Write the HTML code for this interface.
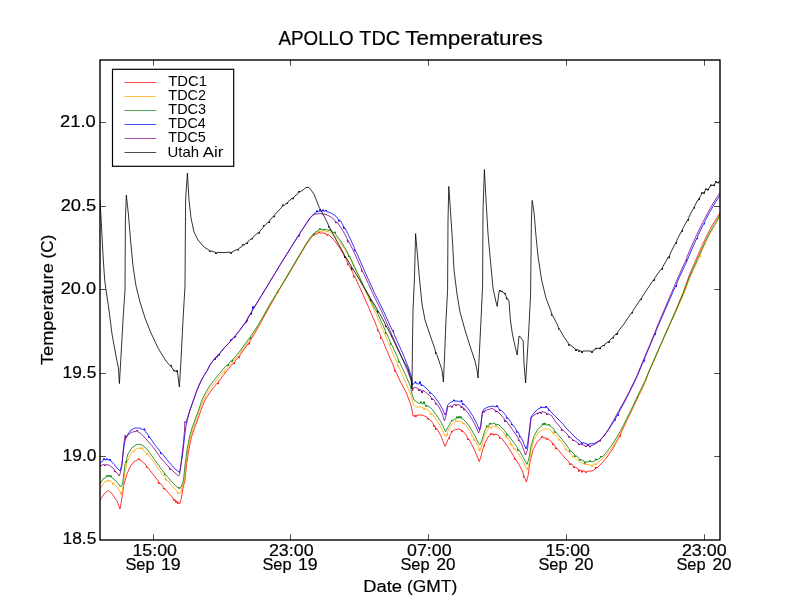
<!DOCTYPE html>
<html><head><meta charset="utf-8"><title>APOLLO TDC Temperatures</title>
<style>
html,body{margin:0;padding:0;background:#fff;}
svg{display:block;will-change:transform;}
text{font-family:"Liberation Sans",sans-serif;fill:#000;stroke:#000;stroke-width:0.2px;}
text.lg{stroke-width:0;}
.c{fill:none;stroke-width:0.8;stroke-linejoin:round;stroke-linecap:butt;}
</style></head><body>
<svg width="800" height="600" viewBox="0 0 800 600">
<rect x="0" y="0" width="800" height="600" fill="#ffffff"/>
<clipPath id="ax"><rect x="100" y="60" width="620" height="480"/></clipPath>
<g clip-path="url(#ax)">
<path class="c" stroke="#ff0000" d="M100.0,500.0 L104.0,494.0 L108.4,490.4 L112.0,493.6 L117.0,501.0 L120.0,509.0 L121.6,500.0 L124.0,484.0 L127.0,474.0 L130.0,467.0 L134.0,461.6 L138.0,459.6 L138.1,459.6 L138.7,458.6 L139.0,459.7 L139.3,458.6 L139.9,460.2 L141.0,460.6 L146.0,465.0 L146.1,465.1 L146.7,467.7 L147.0,466.5 L147.3,467.7 L147.9,467.5 L152.0,473.0 L158.1,480.8 L158.7,483.8 L159.0,482.3 L159.3,483.8 L159.9,483.0 L163.1,486.7 L163.7,489.3 L164.0,488.0 L164.3,489.3 L164.9,488.7 L166.0,490.0 L173.0,498.0 L173.1,498.1 L173.7,500.6 L174.0,499.1 L174.3,500.6 L174.9,499.5 L175.1,499.7 L175.7,502.4 L176.0,500.7 L176.3,502.4 L176.9,501.1 L177.1,501.3 L177.7,503.6 L178.0,502.2 L178.3,503.6 L178.9,502.7 L180.0,503.6 L181.4,498.0 L183.0,488.0 L185.0,480.0 L186.5,465.0 L188.8,450.0 L191.5,437.0 L194.5,428.0 L197.5,420.0 L201.0,410.0 L205.0,400.0 L209.5,393.0 L214.0,387.0 L217.1,383.3 L217.7,384.1 L218.0,382.5 L218.3,384.1 L218.9,381.1 L219.0,381.0 L223.0,375.5 L227.5,370.0 L230.0,367.0 L233.1,363.3 L233.7,364.0 L234.0,362.5 L234.3,364.0 L234.9,361.1 L235.0,361.0 L238.1,357.3 L238.7,358.1 L239.0,356.5 L239.3,358.1 L239.9,355.1 L240.0,355.0 L245.0,348.0 L248.1,343.7 L248.7,344.4 L249.0,342.7 L249.3,344.4 L249.9,341.1 L250.0,341.0 L255.0,333.0 L260.0,324.0 L265.0,315.0 L270.0,306.0 L275.0,297.0 L279.0,290.0 L290.0,272.0 L300.0,255.0 L306.0,245.0 L310.0,239.0 L314.0,235.0 L318.1,233.4 L318.7,231.7 L319.0,232.8 L319.3,231.7 L319.9,233.0 L324.0,233.0 L326.1,233.8 L326.7,235.5 L327.0,234.4 L327.3,235.5 L327.9,234.6 L329.0,235.0 L334.0,240.0 L339.8,248.0 L345.0,257.0 L347.1,261.2 L347.7,264.9 L348.0,263.3 L348.3,264.9 L348.9,264.8 L350.0,267.0 L353.1,273.2 L353.7,277.4 L354.0,275.4 L354.3,277.4 L354.9,276.8 L355.0,277.0 L360.0,288.0 L365.0,299.0 L369.8,310.0 L370.6,312.0 L377.1,327.3 L377.7,331.3 L378.0,329.7 L378.3,331.3 L378.9,331.5 L380.1,334.3 L380.7,338.6 L381.0,336.8 L381.3,338.6 L381.9,338.6 L390.0,358.0 L394.1,367.4 L394.7,371.5 L395.0,369.8 L395.3,371.5 L395.9,371.6 L400.0,381.0 L406.0,392.0 L411.0,405.0 L413.0,416.0 L414.1,415.6 L414.7,416.7 L415.0,415.5 L415.1,415.3 L415.3,416.7 L415.7,416.6 L415.9,415.0 L416.0,415.2 L416.3,416.6 L416.9,415.0 L422.0,415.0 L427.0,417.0 L427.1,417.1 L427.7,419.4 L428.0,418.2 L428.3,419.4 L428.9,418.9 L432.0,422.0 L433.1,423.5 L433.7,426.6 L434.0,425.1 L434.3,426.6 L434.9,426.1 L435.1,426.3 L435.7,429.6 L436.0,427.9 L436.3,429.6 L436.9,428.9 L437.0,429.0 L441.0,436.0 L445.0,446.4 L447.0,442.0 L448.1,439.4 L448.7,439.0 L449.0,437.6 L449.3,439.0 L449.9,435.2 L450.0,435.0 L451.1,433.6 L451.7,431.1 L452.0,432.3 L452.3,431.1 L452.9,431.4 L454.0,430.0 L458.0,429.0 L461.1,429.8 L461.7,431.6 L462.0,430.2 L462.3,431.6 L462.9,431.1 L466.0,435.0 L467.1,436.7 L467.7,439.9 L468.0,438.3 L468.3,439.9 L468.9,439.3 L470.0,441.0 L474.0,449.0 L477.0,456.0 L479.4,461.6 L481.0,456.0 L483.1,448.3 L483.7,446.6 L484.0,445.2 L484.3,446.6 L484.9,443.2 L488.0,437.0 L490.1,435.6 L490.7,433.3 L491.0,434.7 L491.3,433.3 L491.9,434.3 L493.0,433.6 L493.1,433.6 L493.7,435.2 L494.0,434.1 L494.3,435.2 L494.9,434.1 L498.0,435.0 L499.1,436.1 L499.7,438.4 L500.0,437.2 L500.3,438.4 L500.9,437.9 L503.0,440.0 L508.0,447.0 L513.0,455.0 L514.1,456.8 L514.7,460.0 L515.0,458.5 L515.3,460.0 L515.9,459.6 L518.0,463.0 L522.0,470.0 L523.1,473.0 L523.7,477.5 L524.0,475.8 L524.3,477.5 L524.9,477.9 L526.4,482.0 L528.0,476.0 L530.0,462.0 L533.0,450.0 L537.0,442.0 L541.1,438.4 L541.7,436.2 L542.0,437.4 L542.3,436.2 L542.9,437.7 L546.1,437.9 L546.7,439.6 L547.0,438.2 L547.3,439.6 L547.9,438.7 L552.0,442.0 L552.1,442.1 L552.7,445.1 L553.0,443.6 L553.3,445.1 L553.9,444.5 L555.0,446.0 L555.1,446.1 L555.7,449.1 L556.0,447.5 L556.3,449.1 L556.9,448.3 L560.0,452.0 L565.0,458.0 L569.1,462.1 L569.7,464.8 L570.0,463.3 L570.3,464.8 L570.9,463.7 L573.1,465.5 L573.7,467.8 L574.0,466.4 L574.3,467.8 L574.9,466.9 L575.0,467.0 L578.1,468.9 L578.7,471.4 L579.0,469.7 L579.3,471.4 L579.9,469.9 L580.0,470.0 L581.1,470.3 L581.7,472.3 L582.0,470.8 L582.3,472.3 L582.9,470.8 L585.0,471.4 L585.1,471.4 L585.7,472.7 L586.0,471.5 L586.3,472.7 L586.9,471.3 L592.0,471.0 L595.1,469.1 L595.7,467.0 L596.0,468.4 L596.3,467.0 L596.9,468.1 L597.0,468.0 L602.0,463.0 L607.0,457.0 L612.0,450.0 L617.0,441.0 L619.1,436.8 L619.7,436.9 L620.0,435.3 L620.3,436.9 L620.9,433.2 L622.0,431.0 L627.0,420.0 L632.0,410.0 L637.0,399.0 L642.0,389.0 L646.0,380.0 L648.0,374.0 L655.0,358.0 L662.0,342.0 L669.0,326.0 L676.0,310.0 L683.0,293.0 L689.0,276.0 L695.0,262.0 L701.0,248.0 L707.0,235.0 L713.0,224.0 L720.5,212.0"/>
<path class="c" stroke="#ffa500" d="M100.0,489.0 L104.0,482.4 L107.1,480.5 L107.7,481.4 L108.0,480.2 L108.3,481.4 L108.9,480.4 L112.0,481.6 L112.1,481.7 L112.7,484.3 L113.0,482.9 L113.3,484.3 L113.9,483.7 L117.0,487.0 L120.1,491.6 L120.7,494.4 L121.0,493.2 L121.3,494.4 L121.9,491.7 L122.4,491.0 L124.4,476.0 L127.0,462.0 L130.0,455.0 L133.1,451.1 L133.7,451.6 L134.0,450.2 L134.3,451.6 L134.9,449.6 L139.0,448.0 L141.1,448.7 L141.7,447.6 L142.0,448.8 L142.3,447.6 L142.9,449.7 L146.1,452.3 L146.7,454.6 L147.0,453.2 L147.3,454.6 L147.9,454.2 L153.0,461.0 L160.0,471.0 L165.1,477.6 L165.7,480.3 L166.0,479.0 L166.3,480.3 L166.9,479.9 L167.0,480.0 L174.0,488.0 L177.1,491.1 L177.7,493.6 L178.0,492.2 L178.3,493.6 L178.9,492.9 L179.0,493.0 L180.6,493.0 L182.4,486.0 L184.5,480.0 L185.8,465.0 L187.8,450.0 L190.5,437.0 L193.3,428.0 L196.2,420.0 L199.5,410.0 L203.5,400.0 L207.5,392.5 L212.0,386.0 L217.0,379.5 L221.0,374.5 L223.1,372.1 L223.7,372.5 L224.0,371.3 L224.3,372.5 L224.9,370.1 L225.0,370.0 L230.0,364.5 L235.0,359.0 L240.0,353.0 L245.0,346.0 L250.0,339.0 L255.0,331.5 L260.0,323.0 L265.0,314.0 L270.0,305.0 L275.0,296.5 L277.1,293.1 L277.7,293.2 L278.0,291.9 L278.3,293.2 L278.9,290.2 L279.0,290.0 L290.0,271.5 L300.0,254.5 L306.0,244.5 L310.0,238.5 L314.0,234.0 L319.0,231.5 L323.1,231.1 L323.7,229.7 L324.0,230.8 L324.3,229.7 L324.9,231.2 L330.0,232.0 L335.0,236.0 L340.6,243.0 L345.8,251.0 L350.8,260.0 L355.7,270.0 L360.5,280.0 L365.4,291.0 L370.2,301.0 L374.0,310.0 L375.2,312.0 L385.0,335.0 L395.0,358.0 L397.1,362.8 L397.7,366.7 L398.0,365.2 L398.3,366.7 L398.9,367.0 L405.0,381.0 L411.0,395.0 L413.6,405.0 L416.0,407.0 L422.0,407.0 L423.1,407.6 L423.7,409.6 L424.0,408.2 L424.3,409.6 L424.9,408.4 L428.0,410.0 L430.1,412.1 L430.7,414.9 L431.0,413.3 L431.3,414.9 L431.9,413.9 L433.0,415.0 L438.0,422.0 L442.0,429.0 L445.6,437.0 L446.1,435.8 L446.7,435.5 L447.0,433.8 L447.3,435.5 L447.9,431.3 L448.0,431.0 L451.0,425.0 L455.0,422.0 L455.1,422.0 L455.7,420.4 L456.0,421.5 L456.3,420.4 L456.9,421.5 L459.0,421.0 L462.1,422.1 L462.7,424.0 L463.0,422.6 L463.3,424.0 L463.9,423.4 L467.0,427.0 L471.0,433.0 L471.1,433.2 L471.7,436.6 L472.0,435.0 L472.3,436.6 L472.9,436.3 L473.1,436.7 L473.7,440.7 L474.0,438.6 L474.3,440.7 L474.9,439.8 L475.0,440.0 L478.0,446.0 L478.6,447.2 L479.2,451.0 L479.5,449.3 L479.8,451.0 L480.4,449.0 L482.0,445.0 L485.0,434.0 L488.1,429.3 L488.7,426.4 L489.0,427.8 L489.3,426.4 L489.9,427.6 L490.1,427.4 L490.7,428.4 L491.0,427.2 L491.3,428.4 L491.9,426.6 L493.0,426.0 L498.0,427.0 L503.0,432.0 L505.1,434.5 L505.7,437.6 L506.0,435.9 L506.3,437.6 L506.9,436.7 L508.0,438.0 L510.1,441.4 L510.7,445.2 L511.0,443.2 L511.3,445.2 L511.9,444.2 L513.0,446.0 L513.1,446.1 L513.7,449.4 L514.0,447.7 L514.3,449.4 L514.9,448.7 L518.0,453.0 L523.0,461.0 L527.0,470.0 L529.0,464.0 L531.0,450.0 L534.0,440.0 L538.0,433.0 L543.0,429.0 L548.0,429.0 L552.1,431.5 L552.7,433.6 L553.0,432.2 L553.3,433.6 L553.9,433.3 L555.0,435.0 L558.1,438.1 L558.7,440.4 L559.0,439.2 L559.3,440.4 L559.9,439.9 L560.0,440.0 L565.0,447.0 L565.1,447.1 L565.7,450.2 L566.0,448.5 L566.3,450.2 L566.9,449.3 L570.0,453.0 L572.1,455.1 L572.7,457.4 L573.0,456.2 L573.3,457.4 L573.9,456.9 L575.0,458.0 L580.0,462.0 L585.0,464.4 L591.1,464.9 L591.7,466.8 L592.0,465.3 L592.3,466.8 L592.9,464.6 L595.1,463.8 L595.7,464.8 L596.0,463.6 L596.3,464.8 L596.9,463.0 L597.0,463.0 L602.0,459.0 L607.0,454.0 L612.0,448.0 L617.0,440.0 L622.0,430.0 L624.1,425.6 L624.7,425.1 L625.0,423.9 L625.3,425.1 L625.9,421.8 L627.0,419.5 L632.0,409.5 L637.0,398.5 L642.0,388.5 L646.0,380.0 L648.0,374.0 L655.0,358.0 L662.0,342.0 L669.3,326.0 L676.7,310.0 L684.0,293.5 L690.4,276.5 L697.0,262.5 L699.1,257.6 L699.7,257.1 L700.0,255.7 L700.3,257.1 L700.9,253.4 L703.2,248.0 L709.3,235.0 L715.3,224.8 L720.5,215.2"/>
<path class="c" stroke="#008000" d="M100.0,484.0 L103.0,479.0 L106.1,477.4 L106.7,475.3 L107.0,476.7 L107.3,475.3 L107.9,476.5 L108.0,476.4 L108.1,476.4 L108.7,475.3 L109.0,476.5 L109.3,475.3 L109.9,477.0 L110.1,477.0 L110.7,475.7 L111.0,477.1 L111.3,475.7 L111.9,477.6 L112.0,477.6 L117.0,482.0 L120.6,487.0 L122.6,484.0 L125.0,464.0 L125.1,463.7 L125.7,462.7 L126.0,461.0 L126.3,462.7 L126.9,457.7 L128.0,454.0 L132.0,447.6 L137.0,444.4 L141.0,444.4 L146.0,448.0 L152.0,456.0 L159.0,466.0 L164.1,472.6 L164.7,475.1 L165.0,473.9 L165.3,475.1 L165.9,474.9 L166.0,475.0 L173.0,483.0 L178.1,488.1 L178.7,487.4 L179.0,488.8 L179.3,487.4 L179.9,488.4 L180.6,488.0 L182.6,483.0 L183.5,480.0 L185.0,465.0 L187.0,450.0 L189.5,437.0 L192.0,428.0 L195.0,420.0 L198.5,410.0 L202.0,400.0 L206.0,392.0 L210.0,385.5 L215.0,379.0 L219.0,374.0 L222.5,370.0 L225.0,367.0 L227.1,364.9 L227.7,365.8 L228.0,364.3 L228.3,365.8 L228.9,363.1 L230.0,362.0 L231.1,360.9 L231.7,361.6 L232.0,360.2 L232.3,361.6 L232.9,359.1 L235.0,357.0 L240.0,351.0 L245.0,344.0 L249.1,338.3 L249.7,338.8 L250.0,337.3 L250.3,338.8 L250.9,335.7 L255.0,330.0 L260.0,322.0 L265.0,313.0 L270.0,304.0 L275.0,296.0 L278.4,290.0 L280.0,288.0 L290.0,271.0 L300.0,254.0 L306.0,244.0 L310.0,238.0 L313.1,234.1 L313.7,234.6 L314.0,233.2 L314.3,234.6 L314.9,232.5 L319.0,230.0 L319.1,230.0 L319.7,228.3 L320.0,229.7 L320.3,228.3 L320.9,229.8 L325.0,229.4 L329.1,230.4 L329.7,229.2 L330.0,230.4 L330.3,229.2 L330.9,231.1 L334.1,233.1 L334.7,231.8 L335.0,233.3 L335.3,231.8 L335.9,234.8 L340.0,240.0 L345.0,248.0 L348.1,253.6 L348.7,257.0 L349.0,255.5 L349.3,257.0 L349.9,256.8 L350.0,257.0 L355.0,268.0 L360.0,278.0 L365.0,289.0 L370.0,299.0 L375.0,309.0 L376.0,310.0 L385.1,330.0 L385.7,333.9 L386.0,332.3 L386.3,333.9 L386.9,334.0 L390.1,341.0 L390.7,344.6 L391.0,343.2 L391.3,344.6 L391.9,345.0 L396.0,354.0 L398.1,358.6 L398.7,362.4 L399.0,360.9 L399.3,362.4 L399.9,362.6 L406.0,376.0 L410.4,386.0 L412.0,394.0 L414.0,400.0 L418.0,403.0 L420.1,403.4 L420.7,401.7 L421.0,403.2 L421.3,401.7 L421.9,403.6 L423.1,403.9 L423.7,401.6 L424.0,403.6 L424.3,401.6 L424.9,404.4 L425.1,404.6 L425.7,406.6 L426.0,405.2 L426.3,406.6 L426.9,405.4 L428.0,406.0 L432.0,409.0 L437.0,416.0 L441.0,422.0 L445.6,431.6 L448.0,427.0 L451.0,422.0 L451.1,421.9 L451.7,419.9 L452.0,421.0 L452.3,419.9 L452.9,420.6 L455.0,419.0 L456.1,418.7 L456.7,416.6 L457.0,418.2 L457.3,416.6 L457.9,418.3 L458.1,418.2 L458.7,416.4 L459.0,417.8 L459.3,416.4 L459.9,418.2 L460.1,418.3 L460.7,416.6 L461.0,418.2 L461.3,416.6 L461.9,418.7 L463.0,419.0 L467.0,423.0 L471.0,429.0 L475.0,436.0 L478.4,443.0 L480.0,445.0 L482.0,440.0 L485.0,430.0 L486.1,428.6 L486.7,425.7 L487.0,427.2 L487.3,425.7 L487.9,426.4 L489.0,425.0 L489.1,425.0 L489.7,423.0 L490.0,424.4 L490.3,423.0 L490.9,424.2 L494.0,423.0 L495.1,423.4 L495.7,425.2 L496.0,424.0 L496.3,425.2 L496.9,424.2 L499.0,425.0 L504.0,430.0 L506.1,432.5 L506.7,435.4 L507.0,433.9 L507.3,435.4 L507.9,434.7 L509.0,436.0 L514.0,443.0 L517.1,447.3 L517.7,450.6 L518.0,448.9 L518.3,450.6 L518.9,449.9 L519.0,450.0 L523.0,457.0 L527.0,464.4 L529.0,458.0 L531.0,446.0 L534.0,436.0 L538.0,429.0 L542.1,425.7 L542.7,423.4 L543.0,424.8 L543.3,423.4 L543.9,425.0 L544.1,425.0 L544.7,423.0 L545.0,424.7 L545.3,423.0 L545.9,425.0 L548.0,425.0 L548.1,425.1 L548.7,424.2 L549.0,425.4 L549.3,424.2 L549.9,426.1 L553.0,428.0 L554.1,429.7 L554.7,432.6 L555.0,431.2 L555.3,432.6 L555.9,432.1 L560.0,437.0 L565.0,443.0 L569.1,448.7 L569.7,451.6 L570.0,450.2 L570.3,451.6 L570.9,450.9 L574.1,454.1 L574.7,456.8 L575.0,455.3 L575.3,456.8 L575.9,455.7 L579.1,458.3 L579.7,460.6 L580.0,459.2 L580.3,460.6 L580.9,459.5 L584.1,461.1 L584.7,463.5 L585.0,461.9 L585.3,463.5 L585.9,461.7 L589.1,461.8 L589.7,460.5 L590.0,461.7 L590.3,460.5 L590.9,461.9 L592.0,462.0 L595.1,460.8 L595.7,458.8 L596.0,460.2 L596.3,458.8 L596.9,460.0 L597.0,460.0 L600.1,458.1 L600.7,456.2 L601.0,457.4 L601.3,456.2 L601.9,457.1 L602.0,457.0 L607.0,451.6 L612.0,445.0 L617.0,437.0 L622.0,428.0 L627.0,418.0 L632.0,408.0 L636.1,399.0 L636.7,398.4 L637.0,397.2 L637.3,398.4 L637.9,395.2 L642.0,387.0 L645.4,380.0 L648.0,373.5 L655.0,357.5 L662.0,341.5 L669.2,325.5 L676.4,309.5 L683.6,292.5 L689.9,276.0 L696.3,262.0 L702.4,248.0 L708.5,235.0 L714.5,224.5 L720.5,214.0"/>
<path class="c" stroke="#0000ff" d="M100.0,463.0 L103.1,460.7 L103.7,458.4 L104.0,459.8 L104.3,458.4 L104.9,460.0 L106.1,460.0 L106.7,458.6 L107.0,459.8 L107.3,458.6 L107.9,460.0 L109.0,460.0 L109.1,460.1 L109.7,459.1 L110.0,460.5 L110.3,459.1 L110.9,461.4 L113.0,463.0 L117.0,468.0 L120.0,471.0 L122.0,464.0 L124.0,446.0 L125.6,438.0 L128.0,434.0 L131.0,430.0 L135.0,428.0 L139.0,428.0 L143.5,429.8 L144.1,428.7 L144.4,430.2 L144.7,428.7 L145.3,431.6 L148.1,434.9 L148.7,437.6 L149.0,436.2 L149.3,437.6 L149.9,437.4 L155.0,445.0 L160.1,451.3 L160.7,454.0 L161.0,452.6 L161.3,454.0 L161.9,453.5 L168.0,461.0 L175.0,469.0 L179.5,472.5 L181.0,465.0 L182.5,455.0 L184.0,442.0 L185.0,433.0 L186.2,425.0 L187.3,420.0 L190.0,410.0 L193.5,400.0 L197.0,390.0 L200.5,382.0 L204.0,375.5 L207.5,370.0 L210.0,365.0 L214.1,359.3 L214.7,359.8 L215.0,358.3 L215.3,359.8 L215.9,357.1 L218.1,354.9 L218.7,355.6 L219.0,354.2 L219.3,355.6 L219.9,353.1 L220.0,353.0 L225.0,347.0 L230.0,342.0 L230.1,341.9 L230.7,339.4 L231.0,340.6 L231.3,339.4 L231.9,339.7 L234.1,337.1 L234.7,337.5 L235.0,336.2 L235.3,337.5 L235.9,334.9 L240.0,330.0 L245.0,323.0 L246.1,321.1 L246.7,321.1 L247.0,319.8 L247.3,321.1 L247.9,318.0 L250.0,314.3 L250.1,314.1 L250.7,314.6 L251.0,312.9 L251.3,314.6 L251.9,311.2 L252.1,310.9 L252.7,306.4 L253.0,308.9 L253.3,306.4 L253.9,307.9 L255.0,306.1 L260.0,297.9 L265.0,289.7 L270.0,281.4 L275.0,273.2 L280.0,265.0 L290.0,249.0 L298.1,236.0 L298.7,236.4 L299.0,234.9 L299.3,236.4 L299.9,233.2 L300.0,233.0 L306.0,224.0 L310.0,218.0 L314.0,213.6 L316.1,212.8 L316.7,210.6 L317.0,212.1 L317.3,210.6 L317.9,212.0 L319.0,211.6 L319.1,211.6 L319.7,209.5 L320.0,211.2 L320.3,209.5 L320.9,211.5 L322.1,211.4 L322.7,209.7 L323.0,211.1 L323.3,209.7 L323.9,211.3 L325.0,211.2 L325.1,211.2 L325.7,210.1 L326.0,211.2 L326.3,210.1 L326.9,211.7 L330.0,212.4 L335.0,215.6 L338.1,218.6 L338.7,221.4 L339.0,219.8 L339.3,221.4 L339.9,220.4 L340.5,221.0 L343.1,225.2 L343.7,228.8 L344.0,226.9 L344.3,228.8 L344.9,228.0 L345.5,229.0 L350.4,239.0 L354.1,247.3 L354.7,251.1 L355.0,249.6 L355.3,251.1 L355.9,251.3 L360.2,261.0 L365.0,272.0 L370.0,283.0 L375.0,294.0 L380.0,304.0 L383.0,310.0 L392.1,330.0 L392.7,330.2 L393.0,331.7 L393.3,330.2 L393.9,334.0 L403.0,354.0 L409.0,369.0 L411.6,378.0 L412.4,385.0 L414.4,383.0 L414.6,383.1 L415.2,381.7 L415.5,383.1 L415.8,381.7 L416.4,383.6 L418.0,384.0 L419.1,384.0 L419.7,381.6 L420.0,383.6 L420.3,381.6 L420.6,384.0 L420.9,384.0 L421.2,386.0 L421.5,384.6 L421.8,386.0 L422.4,385.0 L425.0,387.0 L429.0,391.0 L429.1,391.1 L429.7,393.4 L430.0,392.2 L430.3,393.4 L430.9,392.9 L434.0,396.0 L439.0,403.0 L443.0,410.0 L445.0,415.0 L446.4,412.0 L447.6,405.0 L451.0,402.0 L453.1,401.6 L453.7,399.8 L454.0,401.2 L454.3,399.8 L454.9,401.2 L456.0,401.0 L460.6,401.6 L461.2,400.3 L461.5,401.8 L461.8,400.3 L462.1,402.5 L462.4,402.8 L462.7,404.9 L463.0,403.5 L463.3,404.9 L463.9,404.1 L465.0,405.0 L469.0,410.0 L473.0,416.4 L477.0,424.0 L479.4,430.0 L481.0,424.0 L482.4,412.0 L484.0,409.0 L488.0,407.0 L493.0,406.0 L496.1,407.0 L496.7,405.5 L497.0,407.0 L497.3,405.5 L497.9,407.6 L498.0,407.6 L499.1,408.6 L499.7,410.7 L500.0,409.6 L500.3,410.7 L500.9,410.2 L503.0,412.0 L506.1,415.7 L506.7,418.4 L507.0,417.0 L507.3,418.4 L507.9,417.9 L508.0,418.0 L511.1,422.3 L511.7,425.1 L512.0,423.8 L512.3,425.1 L512.9,424.9 L513.0,425.0 L516.1,429.3 L516.7,432.5 L517.0,430.9 L517.3,432.5 L517.9,431.9 L518.0,432.0 L519.1,434.0 L519.7,437.3 L520.0,435.9 L520.3,437.3 L520.9,437.3 L522.4,440.0 L526.0,449.0 L527.6,444.0 L529.4,430.0 L531.0,417.0 L534.0,413.0 L538.0,409.0 L540.1,408.3 L540.7,406.7 L541.0,407.8 L541.3,406.7 L541.9,407.8 L543.0,407.4 L545.1,407.7 L545.7,406.0 L546.0,407.5 L546.3,406.0 L546.9,407.9 L548.0,408.0 L548.1,408.1 L548.7,410.6 L549.0,409.5 L549.3,410.6 L549.9,410.4 L552.0,413.0 L557.0,418.0 L562.0,423.0 L567.0,429.0 L572.0,434.0 L577.0,439.0 L581.1,441.8 L581.7,443.8 L582.0,442.6 L582.3,443.8 L582.9,442.6 L587.1,443.8 L587.7,445.6 L588.0,444.2 L588.3,445.6 L588.9,443.9 L594.0,443.6 L599.0,441.0 L604.0,436.0 L609.0,429.0 L614.0,421.0 L614.1,420.8 L614.7,420.6 L615.0,419.4 L615.3,420.6 L615.9,417.6 L617.1,415.4 L617.7,415.8 L618.0,414.1 L618.3,415.8 L618.9,412.2 L619.0,412.0 L624.0,403.0 L629.0,393.0 L634.0,383.0 L637.5,375.5 L643.1,361.9 L643.7,361.6 L644.0,360.0 L644.3,361.6 L644.9,357.6 L651.5,342.0 L654.1,335.7 L654.7,335.1 L655.0,333.7 L655.3,335.1 L655.9,331.3 L658.5,325.0 L665.5,309.0 L672.5,293.0 L675.1,287.1 L675.7,287.0 L676.0,285.3 L676.3,287.0 L676.9,282.9 L679.5,277.0 L686.5,262.0 L691.5,250.0 L696.1,239.6 L696.7,239.2 L697.0,237.9 L697.3,239.2 L697.9,235.7 L703.1,224.8 L703.7,224.4 L704.0,223.2 L704.3,224.4 L704.9,221.3 L709.5,212.5 L715.5,202.0 L720.5,194.8"/>
<path class="c" stroke="#800080" d="M100.0,466.0 L104.0,464.4 L104.1,464.4 L104.7,465.9 L105.0,464.7 L105.3,465.9 L105.9,464.6 L109.0,465.0 L113.0,468.0 L114.1,469.4 L114.7,472.1 L115.0,470.7 L115.3,472.1 L115.9,471.6 L117.0,473.0 L119.4,476.0 L121.6,468.0 L123.6,446.0 L125.0,435.0 L126.0,438.0 L128.0,435.0 L132.0,432.0 L136.1,431.5 L136.7,430.0 L137.0,431.2 L137.3,430.0 L137.9,431.9 L141.0,433.6 L147.0,440.0 L153.0,447.0 L160.0,457.0 L167.0,465.0 L169.1,467.1 L169.7,469.6 L170.0,468.2 L170.3,469.6 L170.9,468.9 L174.0,472.0 L178.5,476.0 L179.5,474.5 L180.5,468.0 L182.0,455.0 L183.5,442.0 L184.5,430.0 L184.8,421.5 L185.5,423.0 L186.7,420.0 L190.0,410.0 L193.5,400.0 L197.0,390.0 L200.5,382.0 L204.0,375.5 L207.5,370.0 L210.0,365.0 L215.0,358.0 L216.1,356.9 L216.7,357.4 L217.0,356.2 L217.3,357.4 L217.9,355.1 L220.0,353.0 L225.0,347.0 L230.0,342.0 L235.0,336.0 L240.0,330.0 L245.0,323.0 L245.1,322.8 L245.7,322.9 L246.0,321.5 L246.3,322.9 L246.9,319.8 L250.0,314.5 L255.0,306.3 L260.0,298.1 L265.0,289.9 L270.0,281.6 L275.0,273.4 L280.0,265.0 L290.0,249.0 L300.0,233.0 L306.0,224.0 L310.0,218.0 L314.0,214.4 L320.0,213.6 L326.0,214.4 L332.0,217.6 L335.1,220.5 L335.7,223.1 L336.0,221.6 L336.3,223.1 L336.9,222.2 L337.8,223.0 L343.0,231.0 L347.1,238.4 L347.7,242.2 L348.0,240.3 L348.3,242.2 L348.9,241.8 L353.0,250.0 L358.0,261.0 L361.1,267.8 L361.7,271.6 L362.0,270.1 L362.3,271.6 L362.9,271.8 L363.0,272.0 L368.0,283.0 L373.0,294.0 L378.0,304.0 L381.0,310.0 L390.7,332.0 L391.1,332.9 L391.7,336.6 L392.0,335.2 L392.3,336.6 L392.9,337.0 L400.4,354.0 L407.2,370.0 L411.0,380.0 L412.4,391.0 L414.4,387.0 L418.1,388.6 L418.7,391.0 L419.0,389.3 L419.3,391.0 L419.9,389.4 L421.1,389.8 L421.7,392.9 L422.0,390.6 L422.3,392.9 L422.9,390.6 L424.0,391.0 L429.0,395.0 L431.1,397.1 L431.7,399.9 L432.0,398.3 L432.3,399.9 L432.9,398.9 L434.0,400.0 L435.1,401.5 L435.7,404.4 L436.0,403.0 L436.3,404.4 L436.9,404.1 L439.0,407.0 L442.4,414.0 L444.4,421.0 L446.0,416.0 L447.6,407.0 L451.0,406.0 L451.1,406.0 L451.7,407.4 L452.0,405.9 L452.3,407.4 L452.9,405.2 L455.0,404.4 L455.1,404.4 L455.7,405.9 L456.0,404.7 L456.3,405.9 L456.9,404.6 L460.0,405.0 L460.6,405.5 L461.2,408.0 L461.5,406.4 L461.8,408.0 L462.4,406.8 L463.1,407.3 L463.7,410.2 L464.0,408.3 L464.3,410.2 L464.9,409.1 L468.0,413.0 L472.0,419.0 L475.6,426.0 L478.6,433.0 L480.6,428.0 L482.0,415.0 L483.1,411.3 L483.7,412.4 L484.0,411.0 L484.3,412.4 L484.9,410.6 L487.0,410.0 L492.0,408.4 L495.1,410.0 L495.7,412.1 L496.0,410.7 L496.3,412.1 L496.9,410.9 L497.0,411.0 L502.0,416.0 L504.1,418.5 L504.7,421.8 L505.0,419.9 L505.3,421.8 L505.9,420.7 L507.0,422.0 L512.0,429.0 L517.0,436.0 L518.1,437.9 L518.7,441.1 L519.0,439.7 L519.3,441.1 L519.9,441.0 L521.6,444.0 L525.6,455.0 L527.4,450.0 L529.0,436.0 L531.0,418.0 L533.0,416.0 L537.0,413.0 L537.1,413.0 L537.7,414.1 L538.0,412.9 L538.3,414.1 L538.9,412.5 L540.1,412.1 L540.7,413.5 L541.0,412.1 L541.3,413.5 L541.9,411.6 L542.0,411.6 L546.1,412.7 L546.7,414.8 L547.0,413.3 L547.3,414.8 L547.9,413.5 L552.0,416.0 L555.0,421.0 L560.0,427.0 L561.1,428.1 L561.7,430.8 L562.0,429.3 L562.3,430.8 L562.9,429.9 L565.0,432.0 L568.1,435.1 L568.7,437.6 L569.0,436.2 L569.3,437.6 L569.9,436.9 L570.0,437.0 L572.1,438.7 L572.7,440.8 L573.0,439.6 L573.3,440.8 L573.9,440.1 L575.0,441.0 L578.1,442.9 L578.7,445.0 L579.0,443.6 L579.3,445.0 L579.9,443.9 L580.0,444.0 L585.0,445.6 L585.1,445.6 L585.7,447.0 L586.0,445.8 L586.3,447.0 L586.9,445.6 L589.1,445.6 L589.7,447.2 L590.0,445.8 L590.3,447.2 L590.9,445.6 L592.0,445.6 L597.0,443.0 L599.1,440.9 L599.7,441.4 L600.0,440.2 L600.3,441.4 L600.9,439.1 L602.0,438.0 L607.0,431.6 L612.0,423.0 L617.0,414.0 L622.0,405.0 L627.0,396.0 L632.0,386.0 L637.0,375.5 L644.0,358.5 L651.0,342.0 L657.8,325.0 L664.6,309.0 L671.4,293.0 L678.2,277.0 L685.0,262.0 L685.1,261.8 L685.7,261.3 L686.0,259.8 L686.3,261.3 L686.9,257.3 L689.9,250.0 L695.9,236.5 L701.9,224.0 L707.9,212.5 L713.9,202.0 L720.5,191.8"/>
<path class="c" stroke="#000000" d="M100.0,200.0 L101.7,230.0 L103.3,260.0 L104.7,280.0 L106.0,290.0 L109.0,310.0 L112.0,334.0 L116.0,356.0 L118.4,368.0 L119.4,383.6 L121.0,356.0 L123.0,320.0 L125.0,290.0 L125.4,220.0 L126.3,195.0 L128.3,213.0 L130.8,243.0 L133.0,266.0 L136.0,286.0 L140.0,302.0 L145.0,318.0 L151.0,333.0 L158.0,348.0 L166.0,361.0 L170.1,365.8 L170.7,365.2 L171.0,366.6 L171.3,365.2 L171.9,367.9 L172.0,368.0 L173.1,369.0 L173.7,371.1 L174.0,370.0 L174.3,371.1 L174.9,370.6 L176.1,371.7 L176.7,370.4 L177.0,372.2 L177.3,370.4 L177.9,375.3 L179.4,387.0 L181.0,360.0 L183.0,320.0 L185.0,286.0 L185.6,200.0 L187.4,173.0 L189.0,200.0 L191.0,218.0 L194.0,232.0 L198.0,240.0 L204.0,247.0 L209.1,250.1 L209.7,251.9 L210.0,250.8 L210.3,251.9 L210.9,250.9 L215.1,252.1 L215.7,254.0 L216.0,252.6 L216.3,254.0 L216.9,252.4 L224.0,252.6 L230.1,252.1 L230.7,253.7 L231.0,252.3 L231.3,253.7 L231.9,252.0 L232.0,252.0 L237.1,249.4 L237.7,250.3 L238.0,249.2 L238.3,250.3 L238.9,248.4 L242.1,246.3 L242.7,244.3 L243.0,245.5 L243.3,244.3 L243.9,245.1 L244.0,245.0 L246.1,243.2 L246.7,244.0 L247.0,242.6 L247.3,244.0 L247.9,241.6 L251.1,238.8 L251.7,239.3 L252.0,238.2 L252.3,239.3 L252.9,237.2 L258.1,232.7 L258.7,233.5 L259.0,232.1 L259.3,233.5 L259.9,231.1 L260.0,231.0 L263.1,227.6 L263.7,225.2 L264.0,226.4 L264.3,225.2 L264.9,225.6 L268.1,222.1 L268.7,222.9 L269.0,221.4 L269.3,222.9 L269.9,220.1 L270.0,220.0 L273.1,216.6 L273.7,217.2 L274.0,215.8 L274.3,217.2 L274.9,214.6 L280.0,209.0 L282.1,207.1 L282.7,204.7 L283.0,206.1 L283.3,204.7 L283.9,205.5 L286.1,203.5 L286.7,204.0 L287.0,202.9 L287.3,204.0 L287.9,201.9 L290.0,200.0 L292.1,198.3 L292.7,199.2 L293.0,197.8 L293.3,199.2 L293.9,196.9 L298.1,193.5 L298.7,191.0 L299.0,192.5 L299.3,191.0 L299.9,192.1 L300.0,192.0 L303.0,190.0 L306.0,187.5 L309.0,187.5 L311.0,190.0 L314.0,194.0 L319.0,207.0 L324.0,216.0 L328.1,224.2 L328.7,227.6 L329.0,226.2 L329.3,227.6 L329.9,227.8 L334.0,236.0 L339.0,245.0 L344.0,254.0 L344.1,254.2 L344.7,257.7 L345.0,256.0 L345.3,257.7 L345.9,257.2 L350.0,264.0 L351.1,265.8 L351.7,269.5 L352.0,267.7 L352.3,269.5 L352.9,268.8 L356.0,274.0 L362.0,284.0 L368.0,294.0 L370.1,297.5 L370.7,301.0 L371.0,299.3 L371.3,301.0 L371.9,300.5 L374.0,304.0 L377.1,309.2 L377.7,312.4 L378.0,310.9 L378.3,312.4 L378.9,312.2 L380.0,314.0 L385.1,323.7 L385.7,327.0 L386.0,325.6 L386.3,327.0 L386.9,327.1 L390.0,333.0 L400.0,354.0 L408.0,369.0 L411.6,381.0 L412.0,389.0 L412.4,350.0 L413.0,310.0 L414.4,280.0 L415.6,233.6 L417.0,250.0 L419.6,280.0 L422.0,304.0 L425.0,320.0 L430.0,335.0 L435.1,349.5 L435.7,354.0 L436.0,352.3 L436.3,354.0 L436.9,354.7 L440.0,364.0 L442.0,370.0 L443.4,382.0 L444.4,360.0 L446.0,320.0 L447.6,290.0 L448.0,220.0 L448.8,186.4 L450.4,210.0 L452.4,240.0 L454.0,270.0 L457.0,294.0 L460.0,312.0 L465.0,330.0 L470.0,346.0 L475.0,361.0 L477.0,370.0 L478.0,378.0 L479.0,360.0 L481.0,320.0 L482.6,286.0 L483.0,210.0 L484.4,169.6 L486.0,200.0 L488.0,234.0 L490.0,256.0 L493.0,288.0 L496.0,302.0 L497.2,306.4 L499.0,292.0 L499.1,292.0 L499.7,290.2 L500.0,291.3 L500.3,290.2 L500.9,291.1 L501.1,291.0 L501.7,292.0 L502.0,290.8 L502.3,292.0 L502.9,291.8 L504.1,293.4 L504.7,293.0 L505.0,294.4 L505.3,293.0 L505.9,295.9 L506.0,296.0 L506.1,296.2 L506.7,299.3 L507.0,297.9 L507.3,299.3 L507.9,299.2 L509.0,301.0 L510.4,320.0 L512.4,334.0 L515.0,346.0 L517.2,355.0 L519.0,336.0 L521.0,337.6 L523.2,341.0 L524.0,364.0 L525.6,383.0 L527.0,360.0 L529.0,326.0 L530.6,294.0 L531.4,220.0 L532.2,200.4 L534.0,212.0 L536.0,236.0 L538.0,256.0 L541.6,280.0 L546.0,298.0 L551.1,311.6 L551.7,315.6 L552.0,314.2 L552.3,315.6 L552.9,315.8 L558.1,326.2 L558.7,329.4 L559.0,328.2 L559.3,329.4 L559.9,329.8 L560.0,330.0 L564.0,337.0 L568.1,342.7 L568.7,345.6 L569.0,344.2 L569.3,345.6 L569.9,344.7 L575.0,348.6 L575.1,348.6 L575.7,350.9 L576.0,349.3 L576.3,350.9 L576.9,349.4 L578.1,349.8 L578.7,351.6 L579.0,350.4 L579.3,351.6 L579.9,350.6 L581.0,351.0 L581.1,351.0 L581.7,352.8 L582.0,351.3 L582.3,352.8 L582.9,351.0 L591.1,351.0 L591.7,352.8 L592.0,351.3 L592.3,352.8 L592.9,350.6 L595.1,349.6 L595.7,347.9 L596.0,349.0 L596.3,347.9 L596.9,348.9 L599.1,347.9 L599.7,349.1 L600.0,347.7 L600.3,349.1 L600.9,346.9 L603.1,345.4 L603.7,346.1 L604.0,345.0 L604.3,346.1 L604.9,344.1 L608.0,342.0 L608.1,341.9 L608.7,342.8 L609.0,341.3 L609.3,342.8 L609.9,340.1 L612.1,337.9 L612.7,338.4 L613.0,337.2 L613.3,338.4 L613.9,336.1 L616.0,334.0 L616.1,333.9 L616.7,334.8 L617.0,333.1 L617.3,334.8 L617.9,331.6 L624.0,324.0 L631.1,313.3 L631.7,313.4 L632.0,312.2 L632.3,313.4 L632.9,310.7 L640.0,300.0 L640.1,299.8 L640.7,299.9 L641.0,298.7 L641.3,299.9 L641.9,297.2 L648.0,288.0 L653.1,280.3 L653.7,280.9 L654.0,279.3 L654.3,280.9 L654.9,277.8 L661.1,269.2 L661.7,269.6 L662.0,268.2 L662.3,269.6 L662.9,266.5 L668.1,257.5 L668.7,258.2 L669.0,256.3 L669.3,258.2 L669.9,254.2 L675.1,243.8 L675.7,243.8 L676.0,242.3 L676.3,243.8 L676.9,240.2 L681.1,231.8 L681.7,232.0 L682.0,230.3 L682.3,232.0 L682.9,228.4 L687.1,220.6 L687.7,220.8 L688.0,219.3 L688.3,220.8 L688.9,217.2 L693.1,208.8 L693.7,208.6 L694.0,207.2 L694.3,208.6 L694.9,205.4 L698.1,199.6 L698.7,200.0 L699.0,198.3 L699.3,200.0 L699.9,196.8 L701.1,195.3 L701.7,192.5 L702.0,193.9 L702.3,192.5 L702.9,193.0 L703.1,192.8 L703.7,193.6 L704.0,191.9 L704.3,193.6 L704.9,190.9 L705.1,190.8 L705.7,188.7 L706.0,189.9 L706.3,188.7 L706.9,189.4 L707.1,189.2 L707.7,190.3 L708.0,188.8 L708.3,190.3 L708.9,187.8 L710.0,187.0 L710.1,186.9 L710.7,184.7 L711.0,186.1 L711.3,184.7 L711.9,185.7 L713.1,184.9 L713.7,186.0 L714.0,184.6 L714.3,186.0 L714.9,183.7 L715.1,183.6 L715.7,181.2 L716.0,182.7 L716.3,181.2 L716.9,182.5 L717.1,182.4 L717.7,183.2 L718.0,182.1 L718.3,183.2 L718.9,181.4 L720.5,180.5"/>
</g>
<rect x="100" y="60" width="620" height="480" fill="none" stroke="#000" stroke-width="1.4"/>
<path d="M153.5,540 v-5.7 M153.5,60 v5.7 M290.5,540 v-5.7 M290.5,60 v5.7 M428.5,540 v-5.7 M428.5,60 v5.7 M566.5,540 v-5.7 M566.5,60 v5.7 M704.5,540 v-5.7 M704.5,60 v5.7 M100,122.5 h5.8 M720,122.5 h-5.8 M100,206.5 h5.8 M720,206.5 h-5.8 M100,289.5 h5.8 M720,289.5 h-5.8 M100,373.5 h5.8 M720,373.5 h-5.8 M100,456.5 h5.8 M720,456.5 h-5.8" stroke="#000" stroke-width="0.7" fill="none"/>
<rect x="112.5" y="69.3" width="121.2" height="97" fill="#fff" stroke="#000" stroke-width="1.2"/>
<path d="M124.5,82.5 H156.2" stroke="#ff0000" stroke-width="0.7" fill="none"/>
<path d="M124.5,96.5 H156.2" stroke="#ffa500" stroke-width="0.7" fill="none"/>
<path d="M124.5,110.5 H156.2" stroke="#008000" stroke-width="0.7" fill="none"/>
<path d="M124.5,124.5 H156.2" stroke="#0000ff" stroke-width="0.7" fill="none"/>
<path d="M124.5,138.5 H156.2" stroke="#800080" stroke-width="0.7" fill="none"/>
<path d="M124.5,152.5 H156.2" stroke="#000000" stroke-width="0.7" fill="none"/>
<g>
<text x="278.44" y="45.20" font-size="20.4" textLength="75.25" lengthAdjust="spacingAndGlyphs">APOLLO</text>
<text x="359.36" y="45.20" font-size="20.4" textLength="40.85" lengthAdjust="spacingAndGlyphs">TDC</text>
<text x="405.30" y="45.20" font-size="20.4" textLength="137.42" lengthAdjust="spacingAndGlyphs">Temperatures</text>
<text x="363.22" y="592.00" font-size="16.7" textLength="38.71" lengthAdjust="spacingAndGlyphs">Date</text>
<text x="406.98" y="592.00" font-size="16.7" textLength="50.25" lengthAdjust="spacingAndGlyphs">(GMT)</text>
<text transform="translate(53.00,364.98) rotate(-90)" font-size="16.7" textLength="101.72" lengthAdjust="spacingAndGlyphs">Temperature</text>
<text transform="translate(53.00,258.54) rotate(-90)" font-size="16.7" textLength="23.78" lengthAdjust="spacingAndGlyphs">(C)</text>
<text x="60.03" y="126.90" font-size="16.7" textLength="35.73" lengthAdjust="spacingAndGlyphs">21.0</text>
<text x="60.66" y="210.90" font-size="16.7" textLength="35.60" lengthAdjust="spacingAndGlyphs">20.5</text>
<text x="60.68" y="293.90" font-size="16.7" textLength="35.30" lengthAdjust="spacingAndGlyphs">20.0</text>
<text x="62.54" y="377.90" font-size="16.7" textLength="33.75" lengthAdjust="spacingAndGlyphs">19.5</text>
<text x="62.54" y="460.90" font-size="16.7" textLength="33.87" lengthAdjust="spacingAndGlyphs">19.0</text>
<text x="62.54" y="544.40" font-size="16.7" textLength="33.75" lengthAdjust="spacingAndGlyphs">18.5</text>
<text x="132.43" y="555.60" font-size="16.7" textLength="44.51" lengthAdjust="spacingAndGlyphs">15:00</text>
<text x="125.45" y="570.10" font-size="16.7" textLength="29.16" lengthAdjust="spacingAndGlyphs">Sep</text>
<text x="160.94" y="570.10" font-size="16.7" textLength="19.75" lengthAdjust="spacingAndGlyphs">19</text>
<text x="268.96" y="555.60" font-size="16.7" textLength="44.62" lengthAdjust="spacingAndGlyphs">23:00</text>
<text x="262.45" y="570.10" font-size="16.7" textLength="29.16" lengthAdjust="spacingAndGlyphs">Sep</text>
<text x="297.94" y="570.10" font-size="16.7" textLength="19.75" lengthAdjust="spacingAndGlyphs">19</text>
<text x="407.09" y="555.60" font-size="16.7" textLength="44.50" lengthAdjust="spacingAndGlyphs">07:00</text>
<text x="400.45" y="570.10" font-size="16.7" textLength="29.16" lengthAdjust="spacingAndGlyphs">Sep</text>
<text x="436.59" y="570.10" font-size="16.7" textLength="18.95" lengthAdjust="spacingAndGlyphs">20</text>
<text x="545.43" y="555.60" font-size="16.7" textLength="44.51" lengthAdjust="spacingAndGlyphs">15:00</text>
<text x="538.45" y="570.10" font-size="16.7" textLength="29.16" lengthAdjust="spacingAndGlyphs">Sep</text>
<text x="574.59" y="570.10" font-size="16.7" textLength="18.95" lengthAdjust="spacingAndGlyphs">20</text>
<text x="681.96" y="555.60" font-size="16.7" textLength="44.62" lengthAdjust="spacingAndGlyphs">23:00</text>
<text x="676.45" y="570.10" font-size="16.7" textLength="29.16" lengthAdjust="spacingAndGlyphs">Sep</text>
<text x="712.59" y="570.10" font-size="16.7" textLength="18.95" lengthAdjust="spacingAndGlyphs">20</text>
<text class="lg" x="168.29" y="85.60" font-size="14.5" textLength="38.72" lengthAdjust="spacingAndGlyphs">TDC1</text>
<text class="lg" x="168.33" y="99.60" font-size="14.5" textLength="37.76" lengthAdjust="spacingAndGlyphs">TDC2</text>
<text class="lg" x="168.33" y="113.60" font-size="14.5" textLength="37.72" lengthAdjust="spacingAndGlyphs">TDC3</text>
<text class="lg" x="168.33" y="127.60" font-size="14.5" textLength="37.46" lengthAdjust="spacingAndGlyphs">TDC4</text>
<text class="lg" x="168.32" y="141.60" font-size="14.5" textLength="37.51" lengthAdjust="spacingAndGlyphs">TDC5</text>
<text class="lg" x="167.56" y="156.80" font-size="14.5" textLength="31.48" lengthAdjust="spacingAndGlyphs">Utah</text>
<text class="lg" x="202.82" y="156.80" font-size="14.5" textLength="20.70" lengthAdjust="spacingAndGlyphs">Air</text>
</g>
</svg></body></html>
